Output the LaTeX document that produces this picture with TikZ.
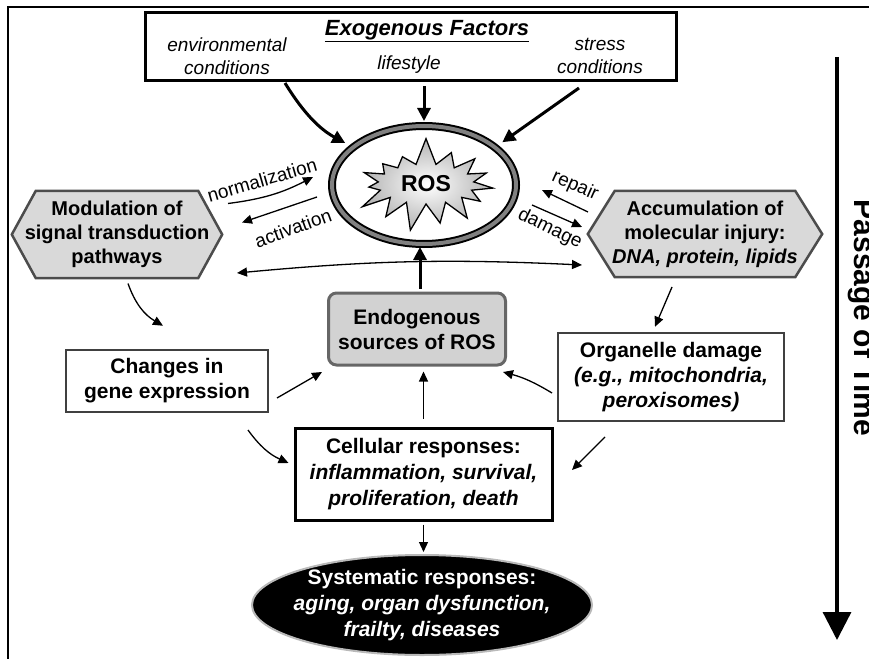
\documentclass[tikz,border=0pt]{standalone}
\usepackage{fontspec}
\setmainfont{Liberation Sans}
\usetikzlibrary{arrows.meta,shapes.geometric,shapes.symbols,backgrounds}

\tikzset{
    txt/.style={font=\fontsize{21}{25}\selectfont\bfseries, align=center},
    box/.style={txt, draw=black!75, line width=2.5pt, fill=white, inner sep=0pt},
    hexa/.style={inner sep=0pt, align=center, font=\fontsize{20}{24}\selectfont\bfseries},
    hexline/.style={draw=black!70, fill=gray!30, line width=2.5pt},
    lab/.style={font=\fontsize{19}{23}\selectfont},
    exotxt/.style={font=\fontsize{19}{23}\selectfont\itshape, align=center},
    arr/.style={-{Triangle[length=10pt,width=9pt]}, line width=1.3pt},
    darr/.style={{Triangle[length=10pt,width=9pt]}-{Triangle[length=10pt,width=9pt]}, line width=1.3pt},
    bigarr/.style={-{Triangle[length=13pt,width=13pt]}, line width=3pt}
}

\begin{document}
\begin{tikzpicture}[x=1pt, y=-1pt]
    \useasboundingbox (0,0) rectangle (869,658);
    \draw[line width=2pt] (8,662) -- (8,7) -- (872,7);

    \node[draw, line width=3pt, minimum width=531pt, minimum height=68pt, inner sep=0pt] (exo) at (410.5, 47) {};
    \node[font=\fontsize{22}{26}\selectfont\bfseries\itshape] (ttl) at (427, 31) {\underline{Exogenous Factors}};
    \node[exotxt] (env) at (227, 56) {environmental\\conditions};
    \node[exotxt, anchor=base] (life) at (409, 70) {lifestyle};
    \node[exotxt] (str) at (600, 56) {stress\\conditions};

    \node[ellipse, draw=black, double=gray, double distance=4pt, line width=2pt, minimum width=184pt, minimum height=118pt] (ros) at (424, 185) {};
    \node[starburst, starburst points=15, starburst point height=28pt, random starburst=7, draw=black, line width=1.3pt, shading=radial, inner color=white, outer color=gray!60, minimum width=152pt, minimum height=96pt, font=\fontsize{23}{26}\selectfont\bfseries] (star) at (426, 184) {ROS};

    \node[hexa, minimum width=210pt, minimum height=87pt] (hexL) at (117, 234.5) {Modulation of\\signal transduction\\pathways};
    \node[hexa, minimum width=234pt, minimum height=86pt] (hexR) at (705, 234) {Accumulation of\\molecular injury:\\\textit{DNA, protein, lipids}};
    \begin{pgfonlayer}{background}
        \draw[hexline] (hexL.west) -- ([xshift=24pt]hexL.north west) -- ([xshift=-24pt]hexL.north east) -- (hexL.east) -- ([xshift=-24pt]hexL.south east) -- ([xshift=24pt]hexL.south west) -- cycle;
        \draw[hexline] (hexR.west) -- ([xshift=27pt]hexR.north west) -- ([xshift=-27pt]hexR.north east) -- (hexR.east) -- ([xshift=-27pt]hexR.south east) -- ([xshift=27pt]hexR.south west) -- cycle;
    \end{pgfonlayer}

    \node[lab, rotate=16] (norm) at (262, 180) {normalization};
    \node[lab, rotate=20] (act) at (293, 228) {activation};
    \node[lab, rotate=-24] (rep) at (575, 186) {repair};
    \node[lab, rotate=-26] (dam) at (550, 229) {damage};

    \node[box, rounded corners=8pt, fill=gray!35, draw=black!60, line width=3pt, minimum width=177pt, minimum height=72pt] (endo) at (417, 329) {Endogenous\\sources of ROS};
    \node[box, minimum width=202pt, minimum height=62pt] (chg) at (167, 381) {Changes in\\gene expression};
    \node[box, minimum width=226pt, minimum height=88pt] (org) at (671, 377) {Organelle damage\\\textit{(e.g., mitochondria,}\\\textit{peroxisomes)}};
    \node[box, draw=black, line width=3pt, minimum width=257pt, minimum height=92pt, font=\fontsize{21}{26}\selectfont\bfseries] (cel) at (423.5, 474) {Cellular responses:\\\textit{inflammation, survival,}\\\textit{proliferation, death}};
    \node[ellipse, fill=black, draw=gray!55, line width=2pt, text=white, txt, font=\fontsize{21}{26}\selectfont\bfseries, minimum width=340pt, minimum height=100pt, inner xsep=-10pt, inner ysep=-12pt] (sys) at (422, 605) {Systematic responses:\\\textit{aging, organ dysfunction,}\\\textit{frailty, diseases}};

    \coordinate (t0) at (837, 57);
    \coordinate (t1) at (837, 640);
    \draw[-{Triangle[length=28pt,width=28pt]}, line width=3.3pt] (t0) -- (t1);
    \node[rotate=-90, anchor=base, font=\fontsize{30}{36}\selectfont\bfseries] (pot) at (854, 318) {Passage of Time};

    \draw[bigarr, shorten >=8pt] ([shift={(-125.5,36)}]exo.center) to[bend right=15] (ros.152);
    \draw[bigarr, shorten <=4pt, shorten >=4pt] (exo.south -| ros.north) -- (ros.north);
    \draw[bigarr, shorten >=8pt] ([shift={(168.5,41)}]exo.center) -- (ros.28);

    \draw[arr] ([shift={(111,-31)}]hexL.center) to[bend right=10] ([shift={(-111,-8)}]ros.center);
    \draw[arr] ([shift={(-107,12)}]ros.center) -- ([shift={(125,-12)}]hexL.center);
    \draw[arr] ([shift={(-117,-22)}]hexR.center) -- ([shift={(118,5)}]ros.center);
    \draw[arr] ([shift={(108,20)}]ros.center) -- ([shift={(-123,-7)}]hexR.center);
    \draw[darr] ([shift={(120,38.5)}]hexL.center) to[bend left=4] ([shift={(-123,31)}]hexR.center);
    \draw[bigarr, shorten <=3pt, shorten >=2pt] ([xshift=3pt]endo.north) -- ([xshift=-4pt]ros.south);

    \draw[arr] ([shift={(11,49)}]hexL.center) to[bend right=20] ([shift={(-4,-23)}]chg.north);
    \draw[arr] ([shift={(-33,53)}]hexR.center) -- ([shift={(-16,-5)}]org.north);
    \draw[arr] ([shift={(110,17)}]chg.center) -- ([shift={(-95,43)}]endo.center);
    \draw[arr] ([shift={(-119,16)}]org.center) to[bend right=8] ([shift={(86,43)}]endo.center);
    \draw[arr, shorten <=8pt, shorten >=5pt] (cel.north) -- (cel.north |- endo.south);
    \draw[arr] ([shift={(81,49)}]chg.center) to[bend right=15] ([shift={(-135,-11)}]cel.center);
    \draw[arr] ([shift={(-66,60)}]org.center) -- ([shift={(148.5,-4)}]cel.center);
    \draw[arr, shorten <=3pt, shorten >=2pt] (cel.south) -- (cel.south |- sys.north);
\end{tikzpicture}
\end{document}
